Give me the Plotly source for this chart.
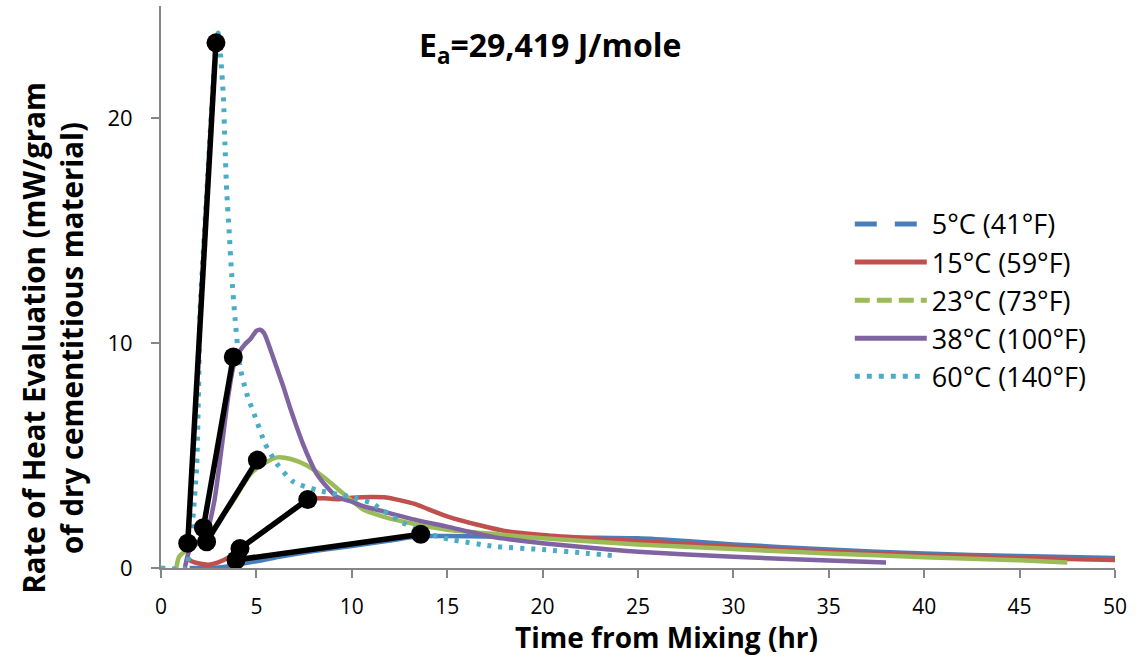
import plotly.graph_objects as go

# Rate of heat evolution curves, one per curing temperature
labels = ["5°C (41°F)", "15°C (59°F)", "23°C (73°F)", "38°C (100°F)", "60°C (140°F)"]
colors = ["#4A7EBB", "#C0504D", "#9BBB59", "#8064A2", "#4BACC6"]
legend_dash = ["22px,18px", "solid", "15px,7px", "solid", "5px,7px"]

t_5c = [1.5, 3.0, 3.6, 4.0, 5.0, 6.2, 8.0, 10.0, 12.0, 13.6, 15.0, 17.0, 20.0,
        22.5, 25.0, 27.5, 30.0, 35.0, 40.0, 45.0, 50.0]
q_5c = [0.0, 0.02, 0.08, 0.15, 0.3, 0.5, 0.75, 0.98, 1.22, 1.42, 1.42, 1.4, 1.37,
        1.35, 1.32, 1.2, 1.05, 0.82, 0.64, 0.53, 0.45]

t_15c = [1.35, 1.6, 2.0, 2.5, 3.0, 3.5, 4.14, 5.0, 6.0, 7.0, 7.7, 8.5, 9.3, 10.0,
         11.0, 11.8, 12.5, 13.3, 14.0, 15.0, 16.7, 18.0, 20.0, 22.5, 25.0, 30.0,
         35.0, 40.0, 45.0, 50.0]
q_15c = [0.45, 0.3, 0.2, 0.15, 0.25, 0.45, 0.84, 1.4, 2.0, 2.65, 3.05, 3.1, 3.06, 3.12,
         3.16, 3.14, 3.02, 2.85, 2.62, 2.3, 1.9, 1.65, 1.47, 1.32, 1.2, 0.95,
         0.73, 0.57, 0.45, 0.36]

t_23c = [0.8, 0.95, 1.35, 2.0, 2.6, 3.2, 3.8, 4.3, 4.7, 5.4, 6.1, 6.8, 7.6, 8.5,
         9.5, 10.6, 11.6, 13.3, 15.0, 17.6, 20.0, 25.0, 30.0, 35.0, 40.0, 45.0, 47.5]
q_23c = [0.0, 0.5, 0.8, 1.15, 1.55, 2.3, 3.0, 3.7, 4.2, 4.65, 4.92, 4.85, 4.58, 4.06,
         3.35, 2.6, 2.3, 1.95, 1.7, 1.5, 1.32, 1.05, 0.84, 0.65, 0.48, 0.34, 0.25]

t_38c = [1.25, 1.5, 2.0, 2.4, 2.8, 3.2, 3.5, 3.79, 4.1, 4.4, 4.7, 5.0, 5.2, 5.4, 5.7,
         6.05, 6.4, 6.75, 7.1, 7.45, 7.8, 8.15, 8.7, 9.2, 10.0, 10.6, 11.5, 13.3,
         15.0, 17.6, 20.0, 22.5, 25.0, 30.0, 35.0, 38.0]
q_38c = [0.0, 0.8, 1.2, 1.6, 3.0, 5.5, 7.5, 8.95, 9.6, 9.95, 10.2, 10.55, 10.6, 10.45,
         9.8, 8.95, 8.1, 7.17, 6.3, 5.5, 4.8, 4.2, 3.6, 3.17, 2.95, 2.75, 2.55, 2.15,
         1.84, 1.35, 1.1, 0.9, 0.72, 0.5, 0.33, 0.25]

t_60c = [0.0, 1.35, 1.45, 1.65, 1.87, 1.97, 2.05, 2.2, 2.45, 2.7, 2.9, 3.0, 3.13,
         3.27, 3.35, 3.44, 3.58, 3.7, 3.88, 4.14, 4.49, 5.0, 5.45, 6.06, 6.93, 8.16,
         9.9, 11.0, 11.65, 12.5, 13.4, 14.1, 15.1, 17.6, 20.0, 22.0, 23.7]
q_60c = [0.0, 0.0, 0.6, 2.0, 4.5, 8.0, 11.5, 13.8, 17.5, 21.0, 23.3, 23.8, 22.7,
         20.95, 18.87, 16.8, 14.87, 13.1, 11.1, 8.95, 7.76, 6.58, 5.54, 4.65, 3.84, 3.47,
         3.17, 2.9, 2.55, 2.1, 1.69, 1.5, 1.28, 0.95, 0.82, 0.68, 0.55]

# Acceleration-period segments: onset point to peak point for each temperature
onset_t = [1.40, 2.22, 2.39, 4.14, 3.93]
onset_q = [1.10, 1.79, 1.17, 0.87, 0.36]
peak_t = [2.88, 3.79, 5.05, 7.69, 13.61]
peak_q = [23.36, 9.39, 4.80, 3.05, 1.50]

x_ticks = [0, 5, 10, 15, 20, 25, 30, 35, 40, 45, 50]
y_ticks = [0, 10, 20]

FONT = "Open Sans"
AXIS_GREY = "#868686"

series_t = [t_5c, t_15c, t_23c, t_38c, t_60c]
series_q = [q_5c, q_15c, q_23c, q_38c, q_60c]

fig = go.Figure()

for i in range(len(labels)):
    dash = "4px,7px" if i == 4 else "solid"
    fig.add_trace(go.Scatter(
        x=series_t[i], y=series_q[i], mode="lines",
        line=dict(color=colors[i], width=4.5 if i < 4 else 5, dash=dash,
                  shape="spline", smoothing=0.6),
        showlegend=False, hoverinfo="skip",
    ))

# legend keys with the per-series line styles
for i in range(len(labels)):
    fig.add_trace(go.Scatter(
        x=[None], y=[None], mode="lines", name=labels[i],
        line=dict(color=colors[i], width=5, dash=legend_dash[i]),
    ))

seg_x, seg_y = [], []
for a, b, c, d in zip(onset_t, onset_q, peak_t, peak_q):
    seg_x += [a, c, None]
    seg_y += [b, d, None]

fig.add_trace(go.Scatter(
    x=seg_x, y=seg_y, mode="lines+markers",
    line=dict(color="black", width=5.5),
    marker=dict(color="black", size=19),
    showlegend=False, hoverinfo="skip",
))

fig.update_layout(
    width=1139, height=659,
    margin=dict(l=161, r=24, t=6, b=91),
    paper_bgcolor="white", plot_bgcolor="white",
    font=dict(family=FONT, color="black"),
    showlegend=True,
    legend=dict(
        x=0.722, y=0.655, xanchor="left", yanchor="top",
        font=dict(family=FONT, size=27, color="black"),
        bgcolor="rgba(0,0,0,0)", tracegroupgap=0, itemwidth=72,
    ),
    xaxis=dict(
        range=[0, 50], tickvals=x_ticks, ticktext=[str(v) for v in x_ticks],
        showgrid=False, zeroline=False,
        showline=True, linecolor=AXIS_GREY, linewidth=2,
        ticks="outside", ticklen=8, tickwidth=2, tickcolor=AXIS_GREY,
        ticklabelstandoff=11,
        tickfont=dict(family=FONT, size=21, color="black"),
    ),
    yaxis=dict(
        range=[0, 25], tickvals=y_ticks, ticktext=[str(v) for v in y_ticks],
        showgrid=False, zeroline=False,
        showline=True, linecolor=AXIS_GREY, linewidth=2,
        ticks="outside", ticklen=8, tickwidth=2, tickcolor=AXIS_GREY,
        ticklabelstandoff=14,
        tickfont=dict(family=FONT, size=22, color="black"),
    ),
    annotations=[
        dict(text="<b>E<sub>a</sub>=29,419 J/mole</b>", x=0.408, y=0.927,
             xref="paper", yref="paper", xanchor="center", yanchor="middle",
             showarrow=False, font=dict(family=FONT, size=32, color="black")),
        dict(text="<b>Time from Mixing (hr)</b>", x=0.53, y=-0.123,
             xref="paper", yref="paper", xanchor="center", yanchor="middle",
             showarrow=False, font=dict(family=FONT, size=28, color="black")),
        dict(text="<b>Rate of Heat Evaluation (mW/gram<br>of dry cementitious material)</b>",
             x=-0.114, y=0.41, xref="paper", yref="paper",
             xanchor="center", yanchor="middle", textangle=-90,
             showarrow=False, font=dict(family=FONT, size=29.5, color="black")),
    ],
)

fig.write_html("out.html")
